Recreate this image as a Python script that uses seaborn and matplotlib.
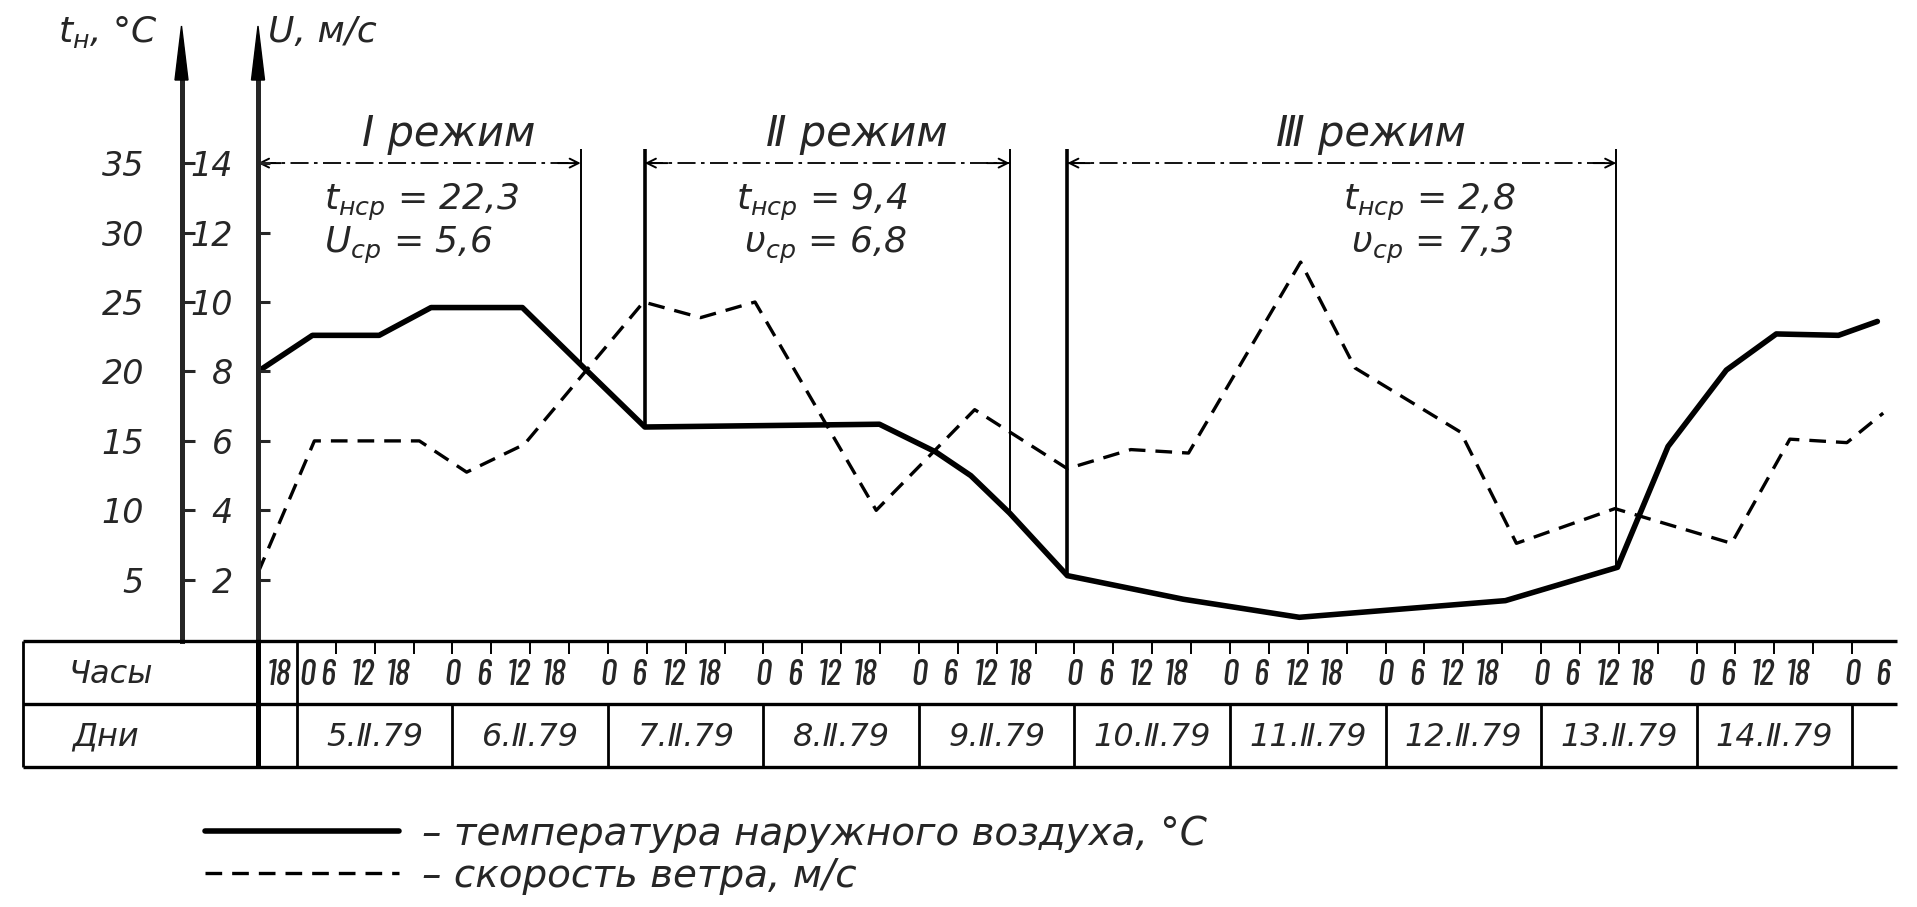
import numpy as np
import pandas as pd
import matplotlib
matplotlib.use("Agg")
import matplotlib.pyplot as plt
import seaborn as sns
from matplotlib import font_manager
from matplotlib.patches import Polygon

# ------------------------------------------------------------------ data
temp_hours = [0, 8.4, 18.7, 26.7, 40.8, 50.0, 59.7, 95.9, 104.6, 110.0, 116.0,
              124.9, 142.8, 160.7, 192.5, 209.8, 217.6, 226.6, 234.3, 243.9, 249.9]
temp_values = [20.0, 22.6, 22.6, 24.6, 24.6, 20.4, 16.0, 16.2, 14.2, 12.5, 9.8,
               5.3, 3.6, 2.3, 3.5, 5.9, 14.6, 20.1, 22.7, 22.6, 23.6]

wind_hours = [0, 8.7, 24.9, 32.2, 41.1, 59.5, 68.3, 76.7, 95.4, 110.6, 124.9,
              134.7, 143.6, 160.9, 169.3, 185.6, 194.2, 209.4, 227.4, 236.4, 245.2, 250.8]
wind_values = [2.2, 6.0, 6.0, 5.1, 5.9, 10.0, 9.55, 10.0, 4.0, 6.9, 5.2,
               5.75, 5.65, 11.15, 8.1, 6.25, 3.05, 4.05, 3.05, 6.05, 5.95, 6.8]

regime_names = ["I режим", "Ⅱ режим", "Ⅲ режим"]
regime_start = [0, 59.7, 124.9]
regime_end = [49.8, 116.0, 209.6]
regime_t_mean = ["22,3", "9,4", "2,8"]
regime_v_mean = ["5,6", "6,8", "7,3"]
regime_v_symbol = ["U", "υ", "υ"]

t_ticks = [5, 10, 15, 20, 25, 30, 35]
v_ticks = [2, 4, 6, 8, 10, 12, 14]

hour_labels = ["18"] + ["0", "6", "12", "18"] * 10 + ["0", "6"]
day_labels = ["5.Ⅱ.79", "6.Ⅱ.79", "7.Ⅱ.79", "8.Ⅱ.79", "9.Ⅱ.79",
              "10.Ⅱ.79", "11.Ⅱ.79", "12.Ⅱ.79", "13.Ⅱ.79", "14.Ⅱ.79"]

legend_labels = ["– температура наружного воздуха, °C", "– скорость ветра, м/с"]

# ------------------------------------------------------------------ style
sns.set_style("white")
plt.rcParams["font.family"] = ["DejaVu Sans"]
plt.rcParams["font.style"] = "italic"
plt.rcParams["mathtext.fontset"] = "custom"
plt.rcParams["mathtext.rm"] = "DejaVu Sans:italic"
plt.rcParams["mathtext.it"] = "DejaVu Sans:italic"
plt.rcParams["mathtext.sf"] = "DejaVu Sans:italic"

ttf = font_manager.fontManager.ttflist
NARROW, HOUR_FS = dict(family="DejaVu Sans"), 18
for name in ("Barlow Condensed", "Archivo Narrow", "Asap Condensed",
             "Liberation Sans Narrow"):
    hits = [f for f in ttf if f.name == name and f.style == "italic"]
    if hits:
        NARROW, HOUR_FS = dict(family=name, stretch=hits[0].stretch,
                               weight="medium"), 26
        break

W, H = 1917, 907
X0 = 258
PX_H = 6.48
T35_PX, T_PX = 163.1, 13.89
TABLE_TOP, TABLE_BOT = 641, 767


def fx(px):
    return px / W


def fy(py):
    return 1 - py / H


def t_at(py):
    return 35 + (T35_PX - py) / T_PX


fig = plt.figure(figsize=(W / 100, H / 100), dpi=100)

ax = fig.add_axes([fx(X0), fy(TABLE_TOP), 1 - fx(X0), TABLE_TOP / H])
t_lo, t_hi = t_at(TABLE_TOP), t_at(0)
ax.set_xlim(0, (W - X0) / PX_H)
ax.set_ylim(t_lo, t_hi)
ax2 = ax.twinx()
ax2.set_ylim(t_lo / 2.5, t_hi / 2.5)

temp_df = pd.DataFrame({"hours": temp_hours, "t": temp_values})
wind_df = pd.DataFrame({"hours": wind_hours, "v": wind_values})
sns.lineplot(data=temp_df, x="hours", y="t", ax=ax, color="black",
             linewidth=4.0, solid_joinstyle="round")
sns.lineplot(data=wind_df, x="hours", y="v", ax=ax2, color="black",
             linewidth=2.4, linestyle=(0, (5, 3)))
temp_line = ax.lines[0]
wind_line = ax2.lines[0]

for a in (ax, ax2):
    for s in a.spines.values():
        s.set_visible(False)
    a.set_xticks([])
    a.set_xlabel("")
    a.set_ylabel("")

ax.spines["left"].set_visible(True)
ax.spines["left"].set_position(("outward", (X0 - 181.5) * 0.72))
ax.spines["left"].set_linewidth(3.6)
ax.spines["left"].set_bounds(t_lo, t_at(79))
ax.set_yticks(t_ticks)
ax.set_yticklabels([str(v) for v in t_ticks])
ax.tick_params(axis="y", direction="in", length=9.4, width=2.2, pad=27,
               labelsize=24)

ax2.yaxis.tick_left()
ax2.spines["left"].set_visible(True)
ax2.spines["left"].set_linewidth(3.6)
ax2.spines["left"].set_bounds(t_lo / 2.5, t_at(79) / 2.5)
ax2.set_yticks(v_ticks)
ax2.set_yticklabels([str(v) for v in v_ticks])
ax2.tick_params(axis="y", direction="in", length=8.6, width=2.2, pad=18,
                labelsize=24, left=True, right=False, labelleft=True,
                labelright=False)

for xpx in (181.5, X0):
    fig.add_artist(Polygon([(fx(xpx - 6.5), fy(80)), (fx(xpx), fy(26)),
                            (fx(xpx + 6.5), fy(80))], closed=True,
                           transform=fig.transFigure, color="black"))

fig.text(fx(58), fy(42), r"$t_{\mathrm{н}}$, °C", fontsize=26, va="baseline")
fig.text(fx(268), fy(42), "U, м/с", fontsize=26, va="baseline")

# ------------------------------------------------------------------ regimes
mean_text_x = [10.2, 73.8, 167.4]
for i in range(3):
    s, e = regime_start[i], regime_end[i]
    ax.hlines(35, s, e, colors="black", linewidth=1.3,
              linestyles=(0, (10, 3, 2, 3)))
    for tip, tail in ((s, s + 3.5), (e, e - 3.5)):
        ax.annotate("", xy=(tip, 35), xytext=(tail, 35),
                    arrowprops=dict(arrowstyle="->", lw=1.4, color="black",
                                    shrinkA=0, shrinkB=0, mutation_scale=16))
    if s > 0:
        ax.vlines(s, np.interp(s, temp_hours, temp_values), 36.0,
                  colors="black", linewidth=2.6)
    ax.vlines(e, np.interp(e, temp_hours, temp_values), 36.0,
              colors="black", linewidth=1.4)
    ax.text((s + e) / 2 + 4.5, 36.25, regime_names[i], ha="center",
            va="baseline", fontsize=30)
    ax.text(mean_text_x[i], 31.6,
            r"$t_{\mathrm{нср}}$ = " + regime_t_mean[i],
            ha="left", va="baseline", fontsize=26)
    ax.text(mean_text_x[i] + (0 if i == 0 else 1.2), 28.5,
            r"$\mathrm{" + regime_v_symbol[i] + r"}_{\mathrm{ср}}$ = "
            + regime_v_mean[i],
            ha="left", va="baseline", fontsize=26)

# ------------------------------------------------------------------ table
tab = fig.add_axes([0, fy(TABLE_BOT), 1, (TABLE_BOT - TABLE_TOP) / H])
tab.set_xlim(-X0 / PX_H, (W - X0) / PX_H)
tab.set_ylim(0, 2)
tab.axis("off")
x_left, x_right = -36.3, 253.0
tab.hlines([0, 1, 2], x_left, x_right, colors="black", linewidth=2.4,
           clip_on=False)
tab.vlines([x_left, 6], 0, 2, colors="black", linewidth=2.0, clip_on=False)
tab.vlines(0, 0, 2, colors="black", linewidth=3.6, clip_on=False)
tab.vlines(np.arange(30, 247, 24), 0, 1, colors="black", linewidth=2.0,
           clip_on=False)
tab.vlines(np.arange(12, 252, 6), 1.8, 2, colors="black", linewidth=1.4,
           clip_on=False)

tab.text(-22.8, 1.47, "Часы", ha="center", va="center", fontsize=23)
tab.text(-23.6, 0.47, "Дни", ha="center", va="center", fontsize=23)

hour_shift = {"0": 0.0, "6": -1.2, "12": -1.8, "18": -2.4}
for i, lab in enumerate(hour_labels):
    if i == 0:
        h = 3.2
    elif i == 1:
        h = 7.6
    else:
        h = 6 * i + hour_shift[lab]
    tab.text(h, 1.45, lab, ha="center", va="center", fontsize=HOUR_FS,
             **NARROW)
for d, lab in enumerate(day_labels):
    tab.text(18 + 24 * d, 0.47, lab, ha="center", va="center", fontsize=23)

# ------------------------------------------------------------------ legend
fig.legend([temp_line, wind_line], legend_labels, loc="upper left",
           bbox_to_anchor=(fx(205), fy(815)), frameon=False, fontsize=28,
           handlelength=5.0, handletextpad=0.58, labelspacing=0.1,
           borderpad=0, borderaxespad=0)

fig.savefig("out.png", dpi=100)
